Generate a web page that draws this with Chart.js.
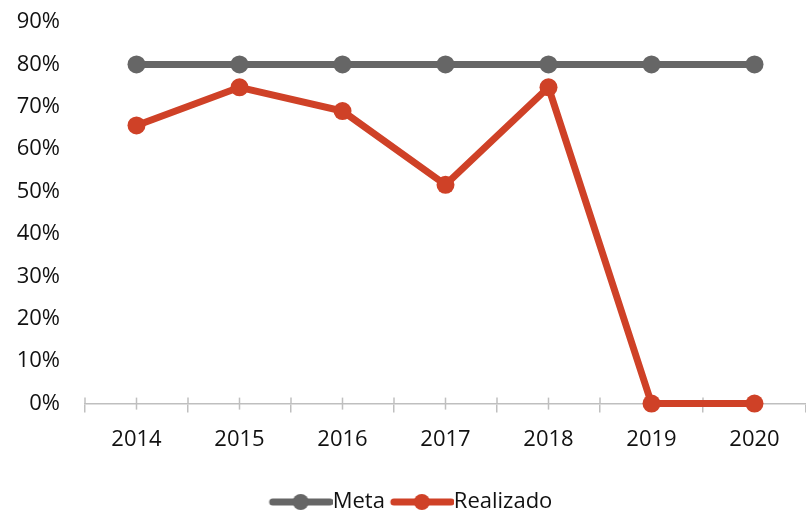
<!DOCTYPE html>
<html>
<head>
<meta charset="utf-8">
<script src="https://cdn.jsdelivr.net/npm/chart.js@4/dist/chart.umd.min.js"></script>
<style>
  body { margin: 0; background: #fff; }
  #wrap { width: 806px; height: 520px; }
</style>
</head>
<body>
<div id="wrap"><canvas id="metaChart" width="806" height="520"></canvas></div>
<script>
const years = ["2014", "2015", "2016", "2017", "2018", "2019", "2020"];
const meta = [0.8, 0.8, 0.8, 0.8, 0.8, 0.8, 0.8];
const realizado = [0.656, 0.746, 0.69, 0.516, 0.746, 0, 0];
const yTicks = [0, 0.1, 0.2, 0.3, 0.4, 0.5, 0.6, 0.7, 0.8, 0.9];

const grey = "#666666";
const red = "#CF4127";
const fontSize = 22;

// legend marker: line with a dot in the middle, shifted right so it touches the text
function legendMarker(color) {
  const c = document.createElement("canvas");
  c.width = 72;
  c.height = 20;
  const g = c.getContext("2d");
  g.strokeStyle = color;
  g.lineWidth = 7;
  g.lineCap = "round";
  g.beginPath();
  g.moveTo(12, 10);
  g.lineTo(69, 10);
  g.stroke();
  g.fillStyle = color;
  g.beginPath();
  g.arc(40, 10, 8, 0, Math.PI * 2);
  g.fill();
  return c;
}

// small tick marks on the x axis (category centres and boundaries, above the line)
const axisTicks = {
  id: "axisTicks",
  afterLayout(ch) {
    // legend sits a bit right of centre and lower in the original
    ch.legend.left += 9;
    ch.legend.right += 9;
    ch.legend.top += 3;
    ch.legend.bottom += 3;
  },
  beforeDatasetsDraw(ch) {
    const x = ch.scales.x;
    const y0 = x.top;
    const c = ch.ctx;
    c.save();
    c.strokeStyle = "#bfbfbf";
    c.lineWidth = 1.5;
    const step = x.getPixelForValue(1) - x.getPixelForValue(0);
    for (let i = 0; i < years.length; i++) {
      const cx = x.getPixelForValue(i);
      c.beginPath();
      c.moveTo(cx, y0 - 6);
      c.lineTo(cx, y0 + 6);
      c.stroke();
      const bx = cx - step / 2;
      c.beginPath();
      c.moveTo(bx, y0 - 6);
      c.lineTo(bx, y0);
      c.stroke();
    }
    c.restore();
  },
};

const ctx = document.getElementById("metaChart").getContext("2d");
const chart = new Chart(ctx, {
  type: "line",
  plugins: [axisTicks],
  data: {
    labels: years,
    datasets: [
      {
        label: "Meta",
        data: meta,
        borderColor: grey,
        backgroundColor: grey,
        borderWidth: 7,
        pointRadius: 9,
        pointHoverRadius: 9,
        pointBorderWidth: 0,
        tension: 0,
        clip: false,
      },
      {
        label: "Realizado",
        data: realizado,
        borderColor: red,
        backgroundColor: red,
        borderWidth: 7,
        pointRadius: 9,
        pointHoverRadius: 9,
        pointBorderWidth: 0,
        tension: 0,
        clip: false,
      },
    ],
  },
  options: {
    responsive: false,
    animation: false,
    layout: { autoPadding: false, padding: { top: 22, right: 0, left: 0, bottom: 0 } },
    plugins: {
      tooltip: { enabled: false },
      legend: {
        position: "bottom",
        labels: {
          usePointStyle: true,
          pointStyleWidth: 50,
          color: "#111",
          padding: 8,
          font: { family: "Open Sans", size: fontSize },
          generateLabels: (ch) =>
            ch.data.datasets.map((ds, i) => ({
              text: ds.label,
              pointStyle: legendMarker(ds.borderColor),
              fillStyle: ds.borderColor,
              strokeStyle: ds.borderColor,
              lineWidth: 0,
              hidden: false,
              datasetIndex: i,
              fontColor: "#111",
            })),
        },
      },
    },
    scales: {
      x: {
        offset: true,
        afterFit: (s) => {
          s.paddingLeft = 0;
          s.paddingRight = 0;
          s.height += 13;
        },
        grid: {
          offset: true,
          drawOnChartArea: false,
          drawTicks: true,
          tickLength: 9,
          color: "#bfbfbf",
          lineWidth: 1.5,
        },
        border: { color: "#bfbfbf", width: 1.5 },
        ticks: {
          color: "#111",
          padding: 14,
          font: { family: "Open Sans", size: fontSize },
        },
      },
      y: {
        min: 0,
        max: 0.9,
        afterBuildTicks: (axis) => {
          axis.ticks = yTicks.map((v) => ({ value: v }));
        },
        afterFit: (s) => {
          s.width = 85;
          s.paddingTop = 0;
          s.paddingBottom = 0;
        },
        grid: { display: false },
        border: { display: false },
        ticks: {
          color: "#111",
          padding: 17,
          font: { family: "Open Sans", size: fontSize },
          callback: (v) => Math.round(v * 100) + "%",
        },
      },
    },
  },
});
</script>
</body>
</html>
